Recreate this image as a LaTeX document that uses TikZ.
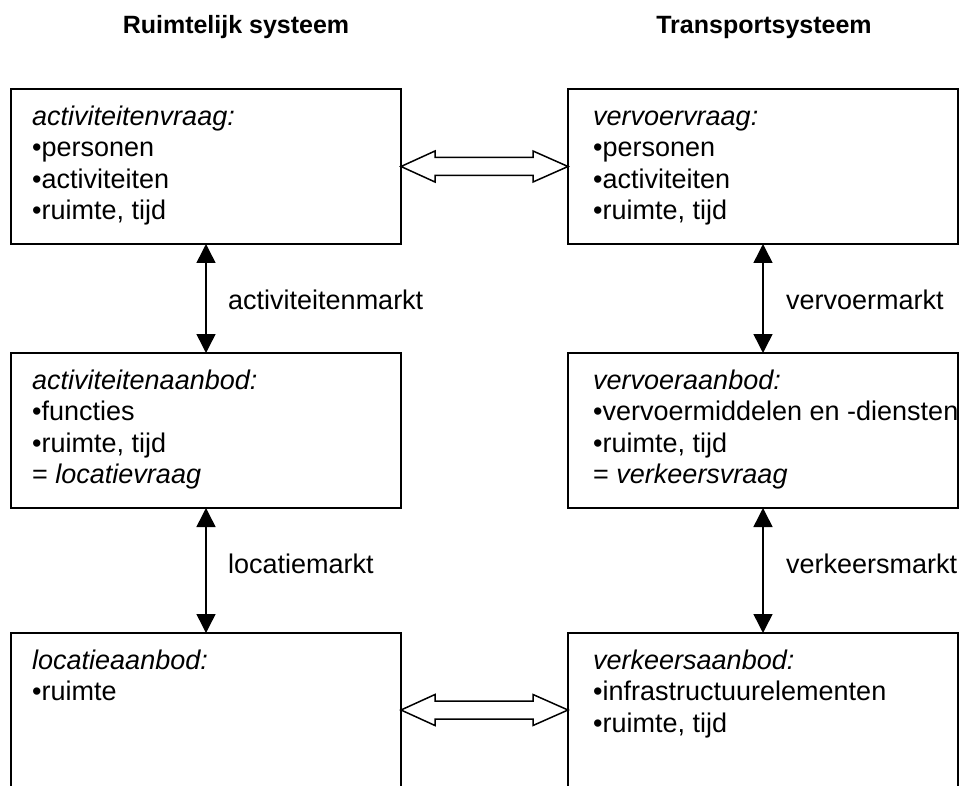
\documentclass[tikz,border=0pt]{standalone}
\usepackage{fontspec}
\setmainfont{Liberation Sans}
\usetikzlibrary{arrows.meta,calc}

\begin{document}
\begin{tikzpicture}[x=1pt,y=-1pt,
  box/.style={draw,line width=2pt,minimum width=390pt,minimum height=155pt,
    inner sep=0pt,outer sep=0pt,anchor=north west},
  boxtext/.style={anchor=north west,align=left,inner sep=0pt,
    font=\fontsize{27}{31.5}\selectfont},
  heading/.style={anchor=base,inner sep=0pt,font=\bfseries\fontsize{25}{30}\selectfont},
  market/.style={anchor=base west,inner sep=0pt,font=\fontsize{27}{31.5}\selectfont},
  vlink/.style={line width=1.5pt,
    {Triangle[length=19pt,width=19pt]}-{Triangle[length=19pt,width=19pt]}},
  hlink/.style={line width=1.5pt,fill=white,line join=miter}]

\useasboundingbox (0,0) rectangle (961,786);
\clip (0,0) rectangle (961,786);

% column headings
\node[heading] (hl) at (236,34) {Ruimtelijk systeem};
\node[heading] (hr) at (764,34) {Transportsysteem};

% boxes
\node[box] (al) at (11,89)  {};
\node[box] (bl) at (11,353) {};
\node[box] (cl) at (11,633) {};
\node[box] (ar) at (568,89)  {};
\node[box] (br) at (568,353) {};
\node[box] (cr) at (568,633) {};

% box contents
\node[boxtext] (tal) at ($(al.north west)+(21,16)$)
  {\rule{0pt}{20pt}\textit{activiteitenvraag:}\\•personen\\•activiteiten\\•ruimte, tijd};
\node[boxtext] (tbl) at ($(bl.north west)+(21,16)$)
  {\rule{0pt}{20pt}\textit{activiteitenaanbod:}\\•functies\\•ruimte, tijd\\= \textit{locatievraag}};
\node[boxtext] (tcl) at ($(cl.north west)+(21,16)$)
  {\rule{0pt}{20pt}\textit{locatieaanbod:}\\•ruimte};
\node[boxtext] (tar) at ($(ar.north west)+(25,16)$)
  {\rule{0pt}{20pt}\textit{vervoervraag:}\\•personen\\•activiteiten\\•ruimte, tijd};
\node[boxtext] (tbr) at ($(br.north west)+(25,16)$)
  {\rule{0pt}{20pt}\textit{vervoeraanbod:}\\•vervoermiddelen en -diensten\\•ruimte, tijd\\= \textit{verkeersvraag}};
\node[boxtext] (tcr) at ($(cr.north west)+(25,16)$)
  {\rule{0pt}{20pt}\textit{verkeersaanbod:}\\•infrastructuurelementen\\•ruimte, tijd};

% vertical market links
\draw[vlink] (al.south) -- (bl.north);
\draw[vlink] (bl.south) -- (cl.north);
\draw[vlink] (ar.south) -- (br.north);
\draw[vlink] (br.south) -- (cr.north);

\node[market] (m1) at (228,309) {activiteitenmarkt};
\node[market] (m2) at (228,573) {locatiemarkt};
\node[market] (m3) at (786,309) {vervoermarkt};
\node[market] (m4) at (786,573) {verkeersmarkt};

% hollow double arrows between the columns
\coordinate (pa) at (al.east);
\coordinate (qa) at (ar.west);
\coordinate (pc) at ($(cl.north east)+(0,77)$);
\coordinate (qc) at ($(cr.north west)+(0,77)$);
\foreach \p/\q in {pa/qa,pc/qc}{
  \draw[hlink] (\p) -- ($(\p)+(34,-15.5)$) -- ($(\p)+(34,-9)$)
    -- ($(\q)+(-35,-9)$) -- ($(\q)+(-35,-15.5)$) -- (\q)
    -- ($(\q)+(-35,15.5)$) -- ($(\q)+(-35,9)$)
    -- ($(\p)+(34,9)$) -- ($(\p)+(34,15.5)$) -- cycle;
}
\end{tikzpicture}
\end{document}
